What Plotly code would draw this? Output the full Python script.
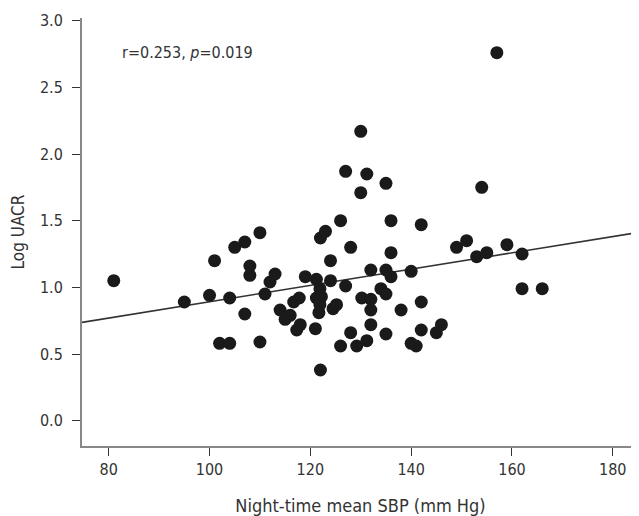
import plotly.graph_objects as go

sbp = [81, 95, 100, 101, 102, 104, 104, 105, 107, 107, 108, 108, 110, 110, 111, 112, 113,
       114, 116, 115, 116.7, 117.8, 118, 117.3, 119, 121, 121.2, 121.9, 122.2, 121.2, 121.9,
       121.7, 122, 122, 123, 124, 124, 125.2, 124.5, 126, 127, 127, 126, 128, 128, 129.2,
       130, 130, 130.2, 131.2, 131.2, 132, 132, 132, 132, 134, 135, 135, 135, 136, 136, 136,
       135, 138, 140, 140, 141, 142, 142, 142, 145, 146, 149, 151, 153, 155, 154, 157, 159,
       162, 162, 166]
uacr = [1.05, 0.89, 0.94, 1.20, 0.58, 0.58, 0.92, 1.30, 1.34, 0.80, 1.16, 1.09, 1.41, 0.59,
        0.95, 1.04, 1.10, 0.83, 0.79, 0.76, 0.89, 0.92, 0.72, 0.68, 1.08, 0.69, 1.06, 0.99,
        0.93, 0.92, 0.87, 0.81, 0.38, 1.37, 1.42, 1.20, 1.05, 0.87, 0.84, 1.50, 1.87, 1.01,
        0.56, 1.30, 0.66, 0.56, 2.17, 1.71, 0.92, 1.85, 0.60, 1.13, 0.91, 0.83, 0.72, 0.99,
        0.95, 1.78, 1.13, 1.08, 1.50, 1.26, 0.65, 0.83, 1.12, 0.58, 0.56, 1.47, 0.89, 0.68,
        0.66, 0.72, 1.30, 1.35, 1.23, 1.26, 1.75, 2.76, 1.32, 1.25, 0.99, 0.99]

fit_intercept = 0.281
fit_slope = 0.00611
fit_x = [74.7, 185.2]
fit_y = [fit_intercept + fit_slope * v for v in fit_x]

x_ticks = [80, 100, 120, 140, 160, 180]
y_ticks = [0.0, 0.5, 1.0, 1.5, 2.0, 2.5, 3.0]
y_tick_labels = ["0.0", "0.5", "1.0", "1.5", "2.0", "2.5", "3.0"]

FONT = "DejaVu Sans Condensed, Roboto, sans-serif"

fig = go.Figure()
fig.add_trace(go.Scatter(x=fit_x, y=fit_y, mode="lines",
                         line=dict(color="#333333", width=1.6), hoverinfo="skip"))
fig.add_trace(go.Scatter(x=sbp, y=uacr, mode="markers",
                         marker=dict(color="#1a1a1a", size=13, line=dict(width=0)),
                         hoverinfo="skip"))

fig.add_annotation(x=82.2, y=2.764, xref="x", yref="y", xanchor="left", yanchor="middle",
                   text="r=0.253, <i>p</i>=0.019", showarrow=False,
                   font=dict(family=FONT, size=16, color="#333333"))

axis_common = dict(showline=True, linecolor="#888888", linewidth=2, showgrid=False,
                   zeroline=False, ticks="outside", ticklen=8, tickwidth=1.2,
                   tickcolor="#333333", automargin=False,
                   tickfont=dict(family=FONT, size=16, color="#333333"))

fig.update_xaxes(range=[74.7, 185.2], tickvals=x_ticks,
                 title=dict(text="Night-time mean SBP (mm Hg)", standoff=21,
                            font=dict(family=FONT, size=18, color="#333333")),
                 **axis_common)
fig.update_yaxes(range=[-0.19, 3.02], tickvals=y_ticks, ticktext=y_tick_labels,
                 ticklabelstandoff=6,
                 title=dict(text="Log UACR", standoff=14,
                            font=dict(family=FONT, size=17, color="#333333")),
                 **axis_common)

# page body has an 8px default margin, so the figure is shrunk by that much
fig.update_layout(width=631, height=508, showlegend=False,
                  margin=dict(l=74, r=0, t=10, b=70),
                  plot_bgcolor="white", paper_bgcolor="white")

fig.write_html("out.html")
